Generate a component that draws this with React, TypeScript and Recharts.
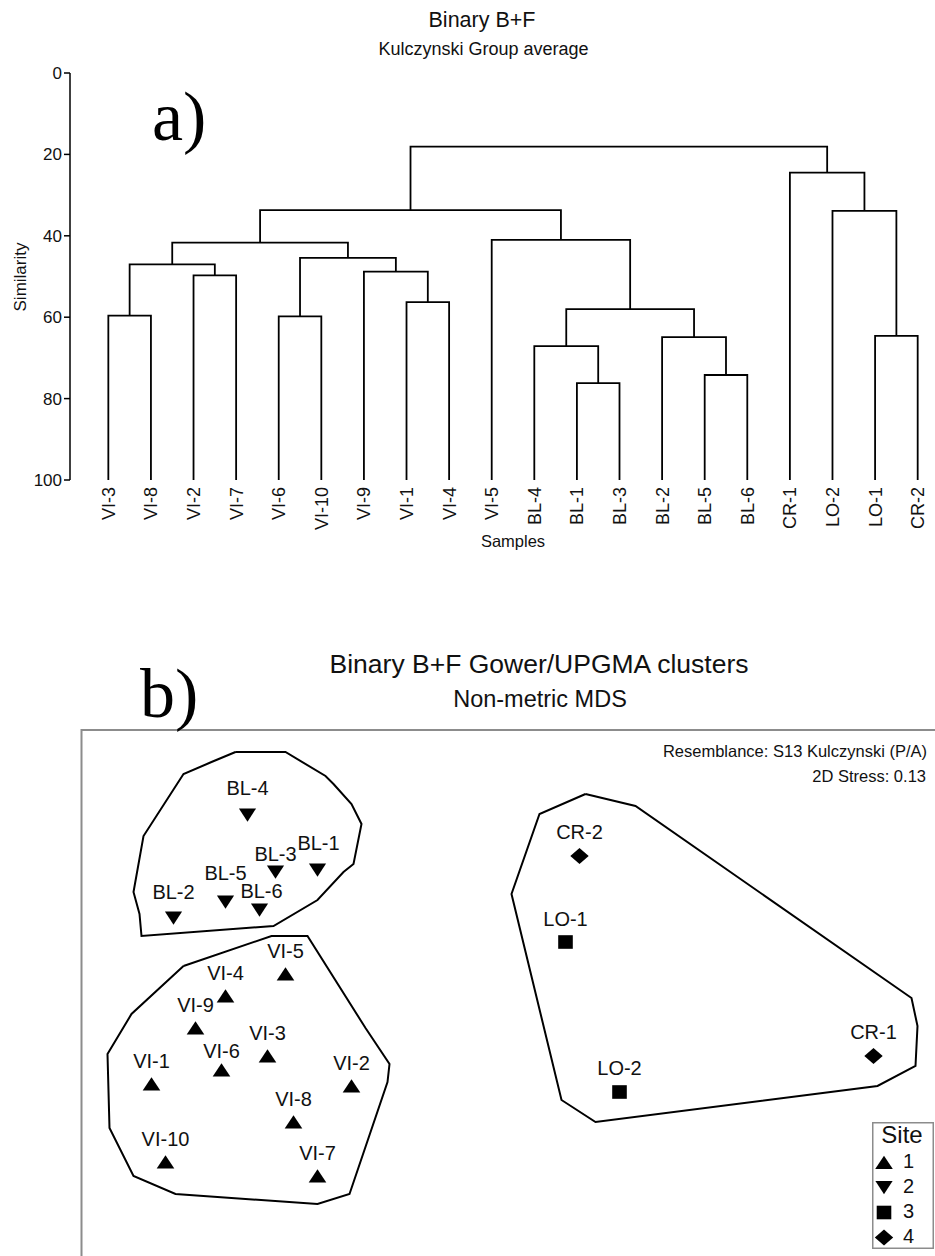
import React from 'react';
import { LineChart, Line, XAxis, YAxis, ScatterChart, Scatter, ReferenceArea, Legend } from 'recharts';

const FONT = '"Liberation Sans", Arial, Helvetica, sans-serif';
const SERIF = '"Liberation Serif", "Times New Roman", serif';
const INK = '#111';

// ---------- a) dendrogram ----------
const leafLabels = ['VI-3', 'VI-8', 'VI-2', 'VI-7', 'VI-6', 'VI-10', 'VI-9', 'VI-1', 'VI-4', 'VI-5',
  'BL-4', 'BL-1', 'BL-3', 'BL-2', 'BL-5', 'BL-6', 'CR-1', 'LO-2', 'LO-1', 'CR-2'];
const leafTicks = leafLabels.map((_, i) => i);
const similarityTicks = [0, 20, 40, 60, 80, 100];
// merge k creates node "n{k+1}": [left child, right child, similarity]
const merges: [string, string, number][] = [
  ['VI-3', 'VI-8', 59.6],
  ['VI-2', 'VI-7', 49.7],
  ['n1', 'n2', 47.0],
  ['VI-6', 'VI-10', 59.8],
  ['VI-1', 'VI-4', 56.3],
  ['VI-9', 'n5', 48.8],
  ['n4', 'n6', 45.4],
  ['n3', 'n7', 41.7],
  ['BL-1', 'BL-3', 76.2],
  ['BL-4', 'n9', 67.1],
  ['BL-5', 'BL-6', 74.2],
  ['BL-2', 'n11', 64.9],
  ['n10', 'n12', 58.0],
  ['VI-5', 'n13', 41.0],
  ['n8', 'n14', 33.7],
  ['LO-1', 'CR-2', 64.6],
  ['LO-2', 'n16', 33.9],
  ['CR-1', 'n17', 24.5],
  ['n15', 'n18', 18.1],
];

const nodePos: Record<string, { x: number; h: number }> = {};
leafLabels.forEach((l, i) => { nodePos[l] = { x: i, h: 100 }; });
const branchSegments = merges.map(([a, b, h], k) => {
  const A = nodePos[a];
  const B = nodePos[b];
  nodePos['n' + (k + 1)] = { x: (A.x + B.x) / 2, h };
  return [
    { x: A.x, y: A.h },
    { x: A.x, y: h },
    { x: B.x, y: h },
    { x: B.x, y: B.h },
  ];
});

// ---------- b) nMDS ----------
const site1Points = [
  { name: 'VI-5', x: -1.07, y: -0.37 },
  { name: 'VI-4', x: -1.37, y: -0.48 },
  { name: 'VI-9', x: -1.52, y: -0.64 },
  { name: 'VI-3', x: -1.16, y: -0.78 },
  { name: 'VI-6', x: -1.39, y: -0.85 },
  { name: 'VI-1', x: -1.74, y: -0.92 },
  { name: 'VI-2', x: -0.74, y: -0.93 },
  { name: 'VI-8', x: -1.03, y: -1.11 },
  { name: 'VI-10', x: -1.67, y: -1.31 },
  { name: 'VI-7', x: -0.91, y: -1.38 },
];
const site2Points = [
  { name: 'BL-4', x: -1.26, y: 0.425 },
  { name: 'BL-3', x: -1.12, y: 0.14 },
  { name: 'BL-1', x: -0.91, y: 0.15 },
  { name: 'BL-5', x: -1.37, y: -0.01 },
  { name: 'BL-6', x: -1.2, y: -0.05 },
  { name: 'BL-2', x: -1.63, y: -0.09 },
];
const site3Points = [
  { name: 'LO-1', x: 0.33, y: -0.21 },
  { name: 'LO-2', x: 0.6, y: -0.96 },
];
const site4Points = [
  { name: 'CR-2', x: 0.4, y: 0.22 },
  { name: 'CR-1', x: 1.87, y: -0.78 },
];
const siteNames = ['1', '2', '3', '4'];
const legendTitle = 'Site';

const hullBL = [
  { x: -1.32, y: 0.74 }, { x: -1.07, y: 0.74 }, { x: -0.87, y: 0.62 }, { x: -0.83, y: 0.58 },
  { x: -0.74, y: 0.48 }, { x: -0.69, y: 0.38 }, { x: -0.73, y: 0.18 }, { x: -0.78, y: 0.14 },
  { x: -0.91, y: 0.0 }, { x: -1.13, y: -0.13 }, { x: -1.79, y: -0.18 }, { x: -1.8, y: -0.07 },
  { x: -1.83, y: 0.04 }, { x: -1.78, y: 0.32 }, { x: -1.58, y: 0.63 }, { x: -1.44, y: 0.69 },
  { x: -1.32, y: 0.74 },
];
const hullVI = [
  { x: -1.58, y: -0.33 }, { x: -1.14, y: -0.18 }, { x: -0.96, y: -0.18 }, { x: -0.67, y: -0.64 },
  { x: -0.55, y: -0.82 }, { x: -0.56, y: -0.91 }, { x: -0.75, y: -1.47 }, { x: -0.91, y: -1.52 },
  { x: -1.62, y: -1.47 }, { x: -1.83, y: -1.38 }, { x: -1.95, y: -1.14 }, { x: -1.96, y: -0.77 },
  { x: -1.84, y: -0.57 }, { x: -1.58, y: -0.33 },
];
const hullLOCR = [
  { x: 0.43, y: 0.53 }, { x: 0.68, y: 0.47 }, { x: 2.06, y: -0.49 }, { x: 2.09, y: -0.63 },
  { x: 2.08, y: -0.83 }, { x: 1.89, y: -0.93 }, { x: 0.48, y: -1.11 }, { x: 0.31, y: -1.0 },
  { x: 0.06, y: 0.03 }, { x: 0.2, y: 0.43 }, { x: 0.43, y: 0.53 },
];

// label placement (layout only): how far above its marker each label's baseline sits
const LABEL_LIFT_DEFAULT = 16;
const labelLift: Record<string, number> = {
  'BL-4': 20, 'BL-3': 11.5, 'BL-1': 20, 'BL-5': 22, 'BL-6': 12, 'BL-2': 19, 'VI-6': 12.5,
  'CR-2': 17.5, 'LO-2': 17.5, 'CR-1': 17.5,
};
const labelShiftX: Record<string, number> = { 'BL-6': 2, 'BL-1': 1 };

// ---------- marker shapes ----------
const drawMarker = (site: string, cx: number, cy: number) => {
  if (site === '1') {
    return <polygon points={`${cx},${cy - 6.8} ${cx + 8.8},${cy + 6.6} ${cx - 8.8},${cy + 6.6}`} fill="#000" />;
  }
  if (site === '2') {
    return <polygon points={`${cx},${cy + 6.8} ${cx + 8.6},${cy - 6.6} ${cx - 8.6},${cy - 6.6}`} fill="#000" />;
  }
  if (site === '3') {
    return <rect x={cx - 7.3} y={cy - 6.8} width={14.6} height={13.6} fill="#000" />;
  }
  return <polygon points={`${cx},${cy - 8} ${cx + 9.2},${cy} ${cx},${cy + 8} ${cx - 9.2},${cy}`} fill="#000" />;
};

const makeShape = (site: string) => (props: any) => {
  const { cx, cy, payload } = props;
  const lift = labelLift[payload.name] ?? LABEL_LIFT_DEFAULT;
  const dx = labelShiftX[payload.name] ?? 0;
  return (
    <g>
      {drawMarker(site, cx, cy)}
      <text x={cx + dx} y={cy - lift} textAnchor="middle" fontSize={20} fontFamily={FONT} fill={INK}>
        {payload.name}
      </text>
    </g>
  );
};

const noShape = () => <g />;

const LeafTick = (props: any) => {
  const { x, y, payload } = props;
  return (
    <g transform={`translate(${x},${y})`}>
      <text transform="rotate(-90)" x={-7} y={0} dy="0.36em" textAnchor="end" fontSize={18} fontFamily={FONT} fill={INK}>
        {leafLabels[payload.value]}
      </text>
    </g>
  );
};

const renderLegend = (props: any) => {
  const items = (props.payload || []).filter((p: any) => p.type !== 'none' && siteNames.includes(String(p.value)));
  return (
    <svg width={62} height={127} style={{ display: 'block' }}>
      <rect x={0.75} y={0.75} width={60.5} height={125.5} fill="#fff" stroke="#8c8c8c" strokeWidth={1.5} />
      <text x={30} y={21} textAnchor="middle" fontSize={24} fontFamily={FONT} fill={INK}>{legendTitle}</text>
      {items.map((it: any, i: number) => {
        const cy = 40.5 + i * 25;
        return (
          <g key={String(it.value)}>
            {drawMarker(String(it.value), 12, cy)}
            <text x={31} y={cy + 5.5} fontSize={20} fontFamily={FONT} fill={INK}>{it.value}</text>
          </g>
        );
      })}
    </svg>
  );
};

export default function App() {
  return (
    <div style={{ position: 'absolute', left: 0, top: 0, width: 935, height: 1256, overflow: 'hidden', background: '#fff' }}>
      <div style={{ position: 'absolute', left: 0, top: 0 }}>
        <LineChart width={936} height={590} margin={{ top: 73, right: 0, left: 30, bottom: 50 }}>
          <XAxis
            type="number"
            dataKey="x"
            domain={[-0.9, 19.43]}
            allowDataOverflow
            ticks={leafTicks}
            interval={0}
            axisLine={false}
            tickLine={false}
            tickSize={0}
            tickMargin={0}
            height={60}
            tick={<LeafTick />}
          />
          <YAxis
            type="number"
            dataKey="y"
            domain={[0, 100]}
            reversed
            allowDataOverflow
            ticks={similarityTicks}
            interval={0}
            width={40}
            axisLine={{ stroke: '#000', strokeWidth: 1.5 }}
            tickLine={{ stroke: '#000', strokeWidth: 1.5 }}
            tickSize={6}
            tickMargin={2}
            tick={{ fontSize: 17, fill: INK, fontFamily: FONT }}
          />
          {branchSegments.map((seg, i) => (
            <Line
              key={i}
              data={seg}
              dataKey="y"
              type="linear"
              stroke="#000"
              strokeWidth={1.8}
              dot={false}
              activeDot={false}
              isAnimationActive={false}
            />
          ))}
        </LineChart>
      </div>

      <div style={{ position: 'absolute', left: 0, top: 600 }}>
        <ScatterChart width={1000} height={700} margin={{ top: 130, right: 40.5, left: 81.5, bottom: 20 }}>
          <XAxis type="number" dataKey="x" domain={[-2.09, 2.3]} allowDataOverflow hide />
          <YAxis type="number" dataKey="y" domain={[-1.9, 0.85]} allowDataOverflow hide />
          <ReferenceArea x1={-2.09} x2={2.3} y1={-1.9} y2={0.85} fill="none" fillOpacity={0} stroke="#8c8c8c" strokeWidth={2} ifOverflow="visible" />
          <Scatter data={hullBL} line={{ stroke: '#000', strokeWidth: 2, fill: 'none' }} shape={noShape} legendType="none" isAnimationActive={false} />
          <Scatter data={hullVI} line={{ stroke: '#000', strokeWidth: 2, fill: 'none' }} shape={noShape} legendType="none" isAnimationActive={false} />
          <Scatter data={hullLOCR} line={{ stroke: '#000', strokeWidth: 2, fill: 'none' }} shape={noShape} legendType="none" isAnimationActive={false} />
          <Scatter name={siteNames[0]} data={site1Points} fill="#000" shape={makeShape('1')} isAnimationActive={false} />
          <Scatter name={siteNames[1]} data={site2Points} fill="#000" shape={makeShape('2')} isAnimationActive={false} />
          <Scatter name={siteNames[2]} data={site3Points} fill="#000" shape={makeShape('3')} isAnimationActive={false} />
          <Scatter name={siteNames[3]} data={site4Points} fill="#000" shape={makeShape('4')} isAnimationActive={false} />
          <Legend
            layout="vertical"
            align="center"
            verticalAlign="middle"
            content={renderLegend}
            wrapperStyle={{ position: 'absolute', left: 872, top: 522, width: 62, height: 127, margin: 0, padding: 0 }}
          />
        </ScatterChart>
      </div>

      <svg width={935} height={1256} style={{ position: 'absolute', left: 0, top: 0, pointerEvents: 'none' }}>
        <text x={482} y={27} textAnchor="middle" fontSize={21.5} fontFamily={FONT} fill={INK}>Binary B+F</text>
        <text x={483.5} y={55} textAnchor="middle" fontSize={18} fontFamily={FONT} fill={INK}>Kulczynski Group average</text>
        <text transform="translate(26,277) rotate(-90)" textAnchor="middle" fontSize={17} fontFamily={FONT} fill={INK}>Similarity</text>
        <text x={513} y={547} textAnchor="middle" fontSize={16.5} fontFamily={FONT} fill={INK}>Samples</text>
        <text x={152} y={140} fontSize={70} fontFamily={SERIF} fill="#000">a)</text>
        <text x={539} y={673} textAnchor="middle" fontSize={26.5} fontFamily={FONT} fill={INK}>Binary B+F Gower/UPGMA clusters</text>
        <text x={540} y={706.5} textAnchor="middle" fontSize={23.5} fontFamily={FONT} fill={INK}>Non-metric MDS</text>
        <text x={140} y={717} fontSize={70} fontFamily={SERIF} fill="#000">b)</text>
        <text x={927} y={756.5} textAnchor="end" fontSize={16.5} fontFamily={FONT} fill={INK}>Resemblance: S13 Kulczynski (P/A)</text>
        <text x={926} y={781.5} textAnchor="end" fontSize={16.5} fontFamily={FONT} fill={INK}>2D Stress: 0.13</text>
      </svg>
    </div>
  );
}
